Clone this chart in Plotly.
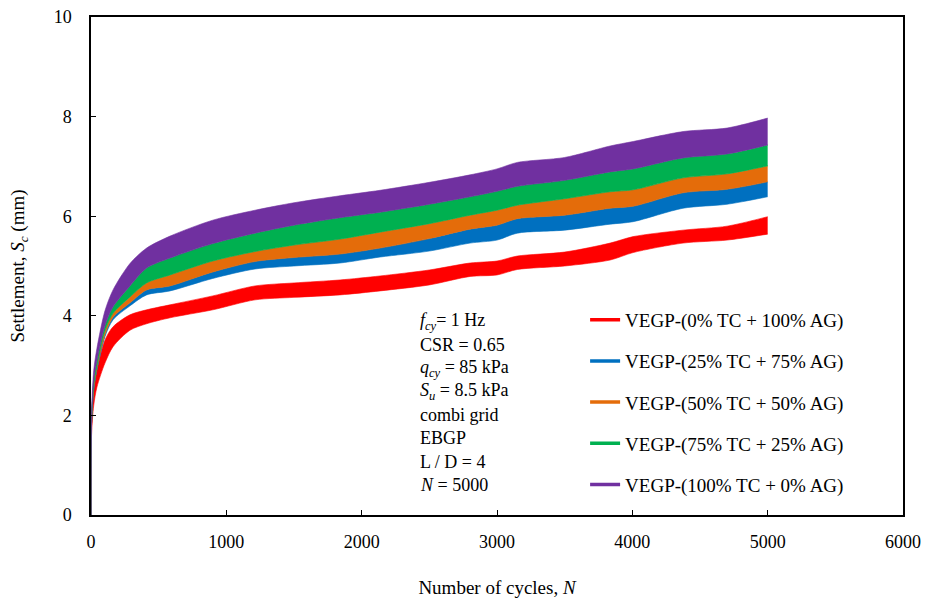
import plotly.graph_objects as go

# ---- data ----
N = [0, 4, 20, 44, 103, 163, 288, 411, 584, 900, 1212, 1500, 1840, 2136,
     2500, 2801, 3000, 3150, 3500, 3836, 4006, 4375, 4700, 5000]

red_upper = [0, 1.8, 2.5, 2.9, 3.51, 3.78, 4.02, 4.12, 4.22, 4.4, 4.6, 4.66, 4.72, 4.8,
             4.92, 5.06, 5.1, 5.2, 5.28, 5.46, 5.59, 5.72, 5.8, 5.99]
red_lower = [0, 1.6, 2.2, 2.57, 3.05, 3.38, 3.71, 3.84, 3.96, 4.12, 4.32, 4.37, 4.42, 4.5,
             4.62, 4.79, 4.82, 4.93, 5.0, 5.12, 5.27, 5.46, 5.52, 5.64]

blue_upper = [0, 1.85, 2.55, 2.95, 3.62, 3.97, 4.26, 4.52, 4.6, 4.88, 5.09, 5.17, 5.24, 5.36,
              5.55, 5.74, 5.82, 5.95, 6.02, 6.16, 6.2, 6.47, 6.54, 6.69]
blue_lower = [0, 1.82, 2.5, 2.9, 3.58, 3.92, 4.2, 4.42, 4.5, 4.75, 4.94, 5.0, 5.06, 5.18,
              5.3, 5.46, 5.52, 5.66, 5.72, 5.84, 5.89, 6.16, 6.24, 6.39]

orange_upper = [0, 1.87, 2.6, 3.0, 3.7, 4.05, 4.38, 4.66, 4.82, 5.1, 5.29, 5.42, 5.54, 5.68,
                5.85, 6.02, 6.12, 6.22, 6.35, 6.49, 6.53, 6.77, 6.85, 7.01]
orange_lower = blue_upper

green_upper = [0, 1.9, 2.7, 3.1, 3.8, 4.18, 4.6, 4.96, 5.16, 5.45, 5.66, 5.82, 5.97, 6.08,
               6.24, 6.39, 6.5, 6.6, 6.72, 6.89, 6.95, 7.17, 7.25, 7.43]
green_lower = orange_upper

purple_upper = [0, 2.0, 2.9, 3.35, 4.1, 4.52, 5.05, 5.36, 5.6, 5.92, 6.12, 6.27, 6.41, 6.52,
                6.68, 6.83, 6.95, 7.08, 7.18, 7.41, 7.5, 7.70, 7.77, 7.97]
purple_lower = green_upper

series_names = ["VEGP-(0% TC + 100% AG)", "VEGP-(25% TC + 75% AG)",
                "VEGP-(50% TC + 50% AG)", "VEGP-(75% TC + 25% AG)",
                "VEGP-(100% TC + 0% AG)"]
series_upper = [red_upper, blue_upper, orange_upper, green_upper, purple_upper]
series_lower = [red_lower, blue_lower, orange_lower, green_lower, purple_lower]
colors = ["#FF0000", "#0070C0", "#E46C0A", "#00B050", "#7030A0"]

x_ticks = [0, 1000, 2000, 3000, 4000, 5000, 6000]
y_ticks = [0, 2, 4, 6, 8, 10]

info_lines = ["<i>f</i><sub><i>cy</i></sub>= 1 Hz", "CSR = 0.65",
              "<i>q</i><sub><i>cy</i></sub> = 85 kPa", "<i>S</i><sub><i>u</i></sub> = 8.5 kPa",
              "combi grid", "EBGP", "L / D = 4", "<i>N</i> = 5000"]

FONT = "Liberation Serif, Times New Roman, serif"

fig = go.Figure()
for name, up, lo, col in zip(series_names, series_upper, series_lower, colors):
    fig.add_trace(go.Scatter(
        x=N, y=lo, mode="lines", line=dict(color=col, width=0.6, shape="spline",
                                           smoothing=0.8),
        showlegend=False, hoverinfo="skip"))
    fig.add_trace(go.Scatter(
        x=N, y=up, mode="lines", fill="tonexty", fillcolor=col,
        line=dict(color=col, width=0.6, shape="spline", smoothing=0.8),
        showlegend=False, hoverinfo="skip"))
for i, (name, col) in enumerate(zip(series_names, colors)):
    fig.add_trace(go.Scatter(
        x=[None], y=[None], mode="lines", name=name,
        line=dict(color=col, width=3.5), legendgroup=f"g{i}"))

for i, t in enumerate(info_lines):
    fig.add_annotation(
        text=t, xref="paper", yref="paper", x=(418 - 91) / 812,
        y=(515 - 321.7 - i * 23.3) / 498, xanchor="left", yanchor="middle",
        showarrow=False, font=dict(family=FONT, size=18, color="black"))

fig.update_layout(
    width=927, height=598,
    margin=dict(l=91, r=24, t=17, b=83),
    paper_bgcolor="white", plot_bgcolor="white",
    font=dict(family=FONT, size=18, color="black"),
    legend=dict(x=0.6085, y=0.43, xanchor="left", yanchor="top",
                bgcolor="rgba(0,0,0,0)", borderwidth=0,
                font=dict(family=FONT, size=19, color="black"),
                tracegroupgap=13.5),
    xaxis=dict(range=[0, 6000], tickvals=x_ticks, ticks="inside", ticklen=5,
               tickwidth=1.2, tickcolor="black", showline=True, linewidth=1.5,
               linecolor="black", mirror=True, showgrid=False, zeroline=False,
               ticklabelstandoff=10, automargin=False,
               title=dict(text="Number of cycles, <i>N</i>",
                          font=dict(family=FONT, size=19), standoff=36)),
    yaxis=dict(range=[0, 10], tickvals=y_ticks, ticks="inside", ticklen=5,
               tickwidth=1.2, tickcolor="black", showline=True, linewidth=1.5,
               linecolor="black", mirror=True, showgrid=False, zeroline=False,
               ticklabelstandoff=14, automargin=False,
               title=dict(text="Settlement, <i>S<sub>c</sub></i> (mm)",
                          font=dict(family=FONT, size=19), standoff=24)),
)

fig.write_html("out.html")
